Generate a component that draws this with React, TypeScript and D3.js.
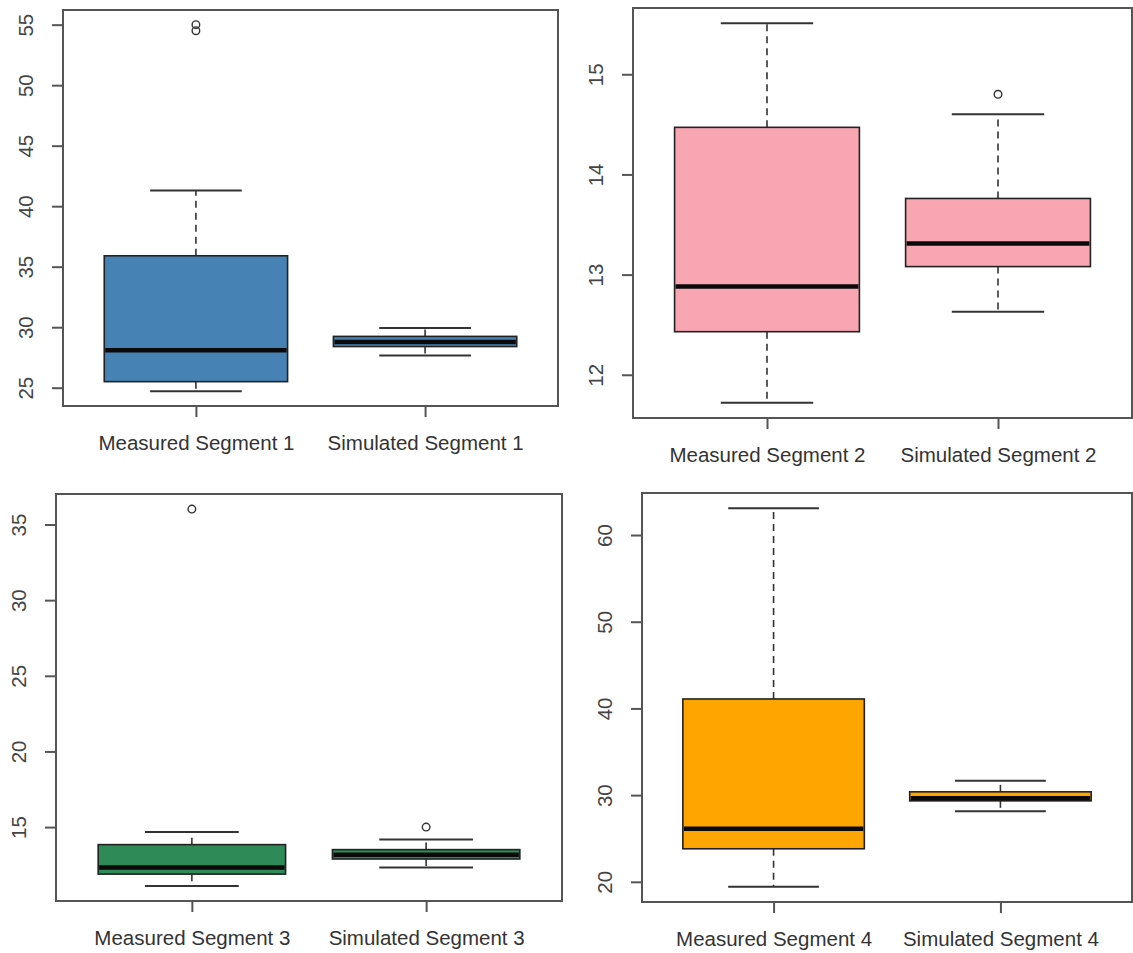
import React from "react";
import * as d3 from "d3";

// five-number summaries: [lower whisker, Q1, median, Q3, upper whisker]
const seg1Labels = ["Measured Segment 1", "Simulated Segment 1"];
const seg1Stats = [
  [24.7, 25.5, 28.1, 35.9, 41.3],
  [27.66, 28.4, 28.77, 29.24, 29.93],
];
const seg1Outliers = [[54.5, 55.0], []];
const seg1Ticks = [25, 30, 35, 40, 45, 50, 55];

const seg2Labels = ["Measured Segment 2", "Simulated Segment 2"];
const seg2Stats = [
  [11.72, 12.43, 12.88, 14.47, 15.51],
  [12.63, 13.08, 13.31, 13.76, 14.6],
];
const seg2Outliers = [[], [14.8]];
const seg2Ticks = [12, 13, 14, 15];

const seg3Labels = ["Measured Segment 3", "Simulated Segment 3"];
const seg3Stats = [
  [11.11, 11.89, 12.33, 13.84, 14.67],
  [12.33, 12.89, 13.17, 13.51, 14.18],
];
const seg3Outliers = [[36.02], [15.0]];
const seg3Ticks = [15, 20, 25, 30, 35];

const seg4Labels = ["Measured Segment 4", "Simulated Segment 4"];
const seg4Stats = [
  [19.42, 23.81, 26.13, 41.09, 63.1],
  [28.14, 29.34, 29.63, 30.38, 31.66],
];
const seg4Outliers = [[], []];
const seg4Ticks = [20, 30, 40, 50, 60];

interface Panel {
  labels: string[];
  stats: number[][];
  outliers: number[][];
  ticks: number[];
  fill: string;
  rect: { left: number; right: number; top: number; bottom: number };
}

const panels: Panel[] = [
  { labels: seg1Labels, stats: seg1Stats, outliers: seg1Outliers, ticks: seg1Ticks, fill: "#4682B4",
    rect: { left: 63, right: 558, top: 10, bottom: 406 } },
  { labels: seg2Labels, stats: seg2Stats, outliers: seg2Outliers, ticks: seg2Ticks, fill: "#F9A6B3",
    rect: { left: 633, right: 1132, top: 8, bottom: 418 } },
  { labels: seg3Labels, stats: seg3Stats, outliers: seg3Outliers, ticks: seg3Ticks, fill: "#2E8B57",
    rect: { left: 56, right: 562, top: 494, bottom: 901 } },
  { labels: seg4Labels, stats: seg4Stats, outliers: seg4Outliers, ticks: seg4Ticks, fill: "#FFA500",
    rect: { left: 642, right: 1132, top: 493, bottom: 902 } },
];

const FONT = "'Liberation Sans', Arial, sans-serif";

const App: React.FC = () => {
  const svgRef = React.useRef<SVGSVGElement | null>(null);

  React.useEffect(() => {
    if (!svgRef.current) return;
    const svg = d3.select(svgRef.current);
    svg.selectAll("*").remove();

    panels.forEach((p) => {
      const { left, right, top, bottom } = p.rect;
      const g = svg.append("g");

      // R style: 4% padding on both axes
      const all = p.stats.flat().concat(p.outliers.flat());
      const [lo, hi] = d3.extent(all) as [number, number];
      const pad = (hi - lo) * 0.04;
      const y = d3.scaleLinear().domain([lo - pad, hi + pad]).range([bottom, top]);
      const x = d3.scaleLinear().domain([0.42, 2.58]).range([left, right]);
      const unit = x(1) - x(0);

      g.append("rect")
        .attr("x", left)
        .attr("y", top)
        .attr("width", right - left)
        .attr("height", bottom - top)
        .attr("fill", "none")
        .attr("stroke", "#555")
        .attr("stroke-width", 2);

      const yAxis = g
        .append("g")
        .attr("transform", `translate(${left},0)`)
        .call(
          d3
            .axisLeft(y)
            .tickValues(p.ticks)
            .tickSize(11)
            .tickSizeOuter(0)
            .tickFormat((d) => String(d))
        );
      yAxis.select(".domain").remove();
      yAxis.selectAll(".tick line").attr("stroke", "#555").attr("stroke-width", 2);
      yAxis
        .selectAll(".tick text")
        .attr("x", null)
        .attr("dy", null)
        .attr("transform", "translate(-38,0) rotate(-90)")
        .attr("text-anchor", "middle")
        .attr("dominant-baseline", "central")
        .attr("font-family", FONT)
        .attr("font-size", 20.5)
        .attr("fill", "#444");

      const xAxis = g
        .append("g")
        .attr("transform", `translate(0,${bottom})`)
        .call(
          d3
            .axisBottom(x)
            .tickValues([1, 2])
            .tickSize(11)
            .tickPadding(18)
            .tickFormat((d, i) => p.labels[i])
        );
      xAxis.select(".domain").remove();
      xAxis.selectAll(".tick line").attr("stroke", "#555").attr("stroke-width", 2);
      xAxis
        .selectAll(".tick text")
        .attr("font-family", FONT)
        .attr("font-size", 20.5)
        .attr("fill", "#333");

      p.stats.forEach((s, i) => {
        const cx = x(i + 1);
        const [wLo, q1, med, q3, wHi] = s;
        const half = unit * 0.4;
        const staple = unit * 0.2;

        // whiskers
        [
          [q3, wHi],
          [q1, wLo],
        ].forEach(([a, b]) => {
          g.append("line")
            .attr("x1", cx).attr("x2", cx)
            .attr("y1", y(a)).attr("y2", y(b))
            .attr("stroke", "#333")
            .attr("stroke-width", 1.6)
            .attr("stroke-dasharray", "7 5");
          g.append("line")
            .attr("x1", cx - staple).attr("x2", cx + staple)
            .attr("y1", y(b)).attr("y2", y(b))
            .attr("stroke", "#333")
            .attr("stroke-width", 2);
        });

        g.append("rect")
          .attr("x", cx - half)
          .attr("y", y(q3))
          .attr("width", half * 2)
          .attr("height", y(q1) - y(q3))
          .attr("fill", p.fill)
          .attr("stroke", "#222")
          .attr("stroke-width", 1.6);

        g.append("line")
          .attr("x1", cx - half + 1).attr("x2", cx + half - 1)
          .attr("y1", y(med)).attr("y2", y(med))
          .attr("stroke", "#0a0a0a")
          .attr("stroke-width", 4.5);

        p.outliers[i].forEach((o) => {
          g.append("circle")
            .attr("cx", cx)
            .attr("cy", y(o))
            .attr("r", 3.8)
            .attr("fill", "none")
            .attr("stroke", "#333")
            .attr("stroke-width", 1.4);
        });
      });
    });
  }, []);

  return (
    <div style={{ position: "absolute", left: 0, top: 0, background: "#fff" }}>
      <svg ref={svgRef} width={1133} height={953}></svg>
    </div>
  );
};

export default App;
